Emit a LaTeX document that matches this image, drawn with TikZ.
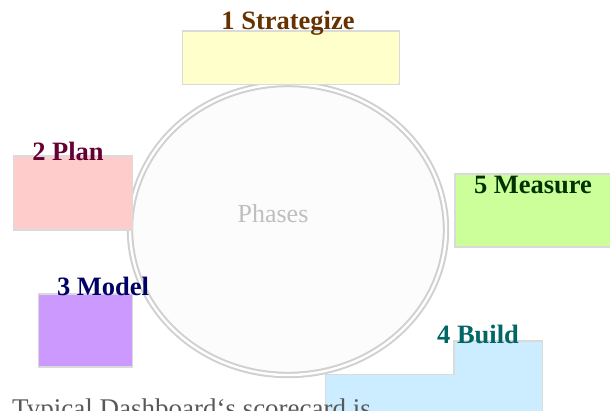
\documentclass[tikz,border=0pt]{standalone}
\usepackage{fontspec}
\usetikzlibrary{shapes.geometric}
\setmainfont{Liberation Serif}
\definecolor{edgegray}{HTML}{DADADA}
\definecolor{ringgray}{HTML}{D0D0D0}
\definecolor{fillyellow}{HTML}{FFFFCC}
\definecolor{fillpink}{HTML}{FFCCCC}
\definecolor{fillpurple}{HTML}{CC99FF}
\definecolor{fillgreen}{HTML}{CCFF99}
\definecolor{fillblue}{HTML}{CCECFF}
\definecolor{txtbrown}{HTML}{663300}
\definecolor{txtwine}{HTML}{660033}
\definecolor{txtnavy}{HTML}{000066}
\definecolor{txtteal}{HTML}{006666}
\definecolor{txtgreen}{HTML}{003300}
\definecolor{txtgray}{HTML}{BFBFBF}
\definecolor{bodygray}{HTML}{595959}
\definecolor{ringfill}{HTML}{FCFCFC}
\begin{document}
\begin{tikzpicture}[x=1pt,y=-1pt,
  phasebox/.style={draw=edgegray,line width=1.8pt,rectangle,inner sep=0pt,anchor=north west},
  phaselabel/.style={font=\fontsize{26.5}{30}\selectfont\bfseries,anchor=base,inner sep=0pt},
  ring/.style={draw=ringgray,line width=2pt,double=white,double distance=2.4pt},
]
\clip (0,0) rectangle (610,410);
\useasboundingbox (0,0) rectangle (610,410);
% ring
\node[ring,ellipse,minimum width=316pt,minimum height=291pt,fill=ringfill,inner sep=0pt] (ring) at (288,229.5) {};
\node[anchor=base,inner sep=0pt,text=txtgray,font=\fontsize{26}{30}\selectfont] (phases) at (273,222) {Phases};
% boxes
\node[phasebox,fill=fillyellow,minimum width=217pt,minimum height=53pt] (sbox) at (181.5,30) {};
\node[phasebox,fill=fillpink,minimum width=119pt,minimum height=74pt] (pbox) at (12.5,155) {};
\node[phasebox,fill=fillpurple,minimum width=94pt,minimum height=73pt] (mbox) at (37.5,293) {};
\node[phasebox,fill=fillgreen,minimum width=160pt,minimum height=73pt] (gbox) at (454,173) {};
\coordinate (b1) at (454,341);
\coordinate (b2) at (542.5,341);
\coordinate (b3) at (542.5,415);
\coordinate (b4) at (325.5,415);
\coordinate (b5) at (325.5,374.5);
\coordinate (b6) at (454,374.5);
\filldraw[draw=edgegray,fill=fillblue,line width=1.8pt] (b1) -- (b2) -- (b3) -- (b4) -- (b5) -- (b6) -- cycle;
\fill[fillyellow] (182.5,80) rectangle (397.5,84);
% labels
\node[phaselabel,text=txtbrown] (slab) at (288,29) {1 Strategize};
\node[phaselabel,text=txtwine] (plab) at (68,160) {2 Plan};
\node[phaselabel,text=txtnavy] (mlab) at (103,295) {3 Model};
\node[phaselabel,text=txtteal] (blab) at (478,343) {4 Build};
\node[phaselabel,text=txtgreen] (glab) at (533,193) {5 Measure};
% bottom text (cut at the lower edge, as in the reference)
\node[anchor=base west,inner sep=0pt,text=bodygray,font=\fontsize{27}{30}\selectfont] (body) at (12,417) {Typical Dashboard‘s scorecard is};
\end{tikzpicture}
\end{document}
